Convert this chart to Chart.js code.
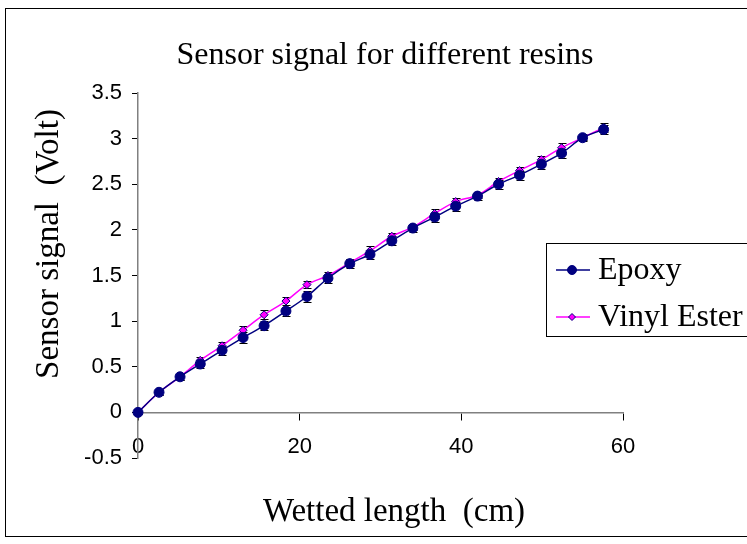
<!DOCTYPE html>
<html>
<head>
<meta charset="utf-8">
<title>Sensor signal for different resins</title>
<script src="https://cdn.jsdelivr.net/npm/chart.js@4.4.1/dist/chart.umd.min.js"></script>
<style>
  html, body { margin: 0; padding: 0; background: #fff; }
  canvas { display: block; }
</style>
</head>
<body>
<canvas id="sensorChart" width="747" height="544"></canvas>
<script>
// values
var wettedLength = [0, 2.6, 5.2, 7.7, 10.4, 13.0, 15.6, 18.3, 20.9, 23.5, 26.2, 28.7,
                    31.4, 34.0, 36.7, 39.3, 42.0, 44.6, 47.2, 49.9, 52.4, 55.0, 57.6];
var epoxySignal = [0, 0.22, 0.39, 0.53, 0.68, 0.82, 0.95, 1.11, 1.27, 1.47, 1.63, 1.73,
                   1.88, 2.02, 2.14, 2.26, 2.37, 2.50, 2.60, 2.72, 2.84, 3.01, 3.10];
var vinylSignal = [0, 0.22, 0.39, 0.57, 0.73, 0.90, 1.07, 1.22, 1.40, 1.50, 1.64, 1.77,
                   1.93, 2.03, 2.18, 2.31, 2.38, 2.53, 2.65, 2.77, 2.90, 3.01, 3.12];
var epoxyError = [0.02, 0.03, 0.03, 0.04, 0.05, 0.06, 0.05, 0.05, 0.06, 0.05, 0.05, 0.05,
                  0.05, 0.04, 0.05, 0.05, 0.04, 0.05, 0.05, 0.05, 0.05, 0.04, 0.05];
var vinylError = [0.02, 0.03, 0.03, 0.04, 0.04, 0.05, 0.05, 0.04, 0.04, 0.04, 0.04, 0.05,
                  0.04, 0.03, 0.05, 0.04, 0.03, 0.04, 0.04, 0.04, 0.05, 0.03, 0.05];
var xTickValues = [0, 20, 40, 60];
var yTickValues = [-0.5, 0, 0.5, 1, 1.5, 2, 2.5, 3, 3.5];
var seriesNames = ['Epoxy', 'Vinyl Ester'];

var serif = "'Liberation Serif', 'Times New Roman', serif";
var sans = "'Liberation Sans', Arial, sans-serif";

function toPoints(ys) {
    return wettedLength.map(function (x, i) { return { x: x, y: ys[i] }; });
}

// error bars, drawn under the markers
var errorBars = {
    id: 'errorBars',
    beforeDatasetsDraw: function (chart) {
        var ctx = chart.ctx;
        var xs = chart.scales.x, ys = chart.scales.y;
        ctx.save();
        ctx.strokeStyle = '#000';
        ctx.lineWidth = 1;
        chart.data.datasets.forEach(function (ds) {
            ds.data.forEach(function (p, i) {
                var px = Math.round(xs.getPixelForValue(p.x)) + 0.5;
                var top = Math.round(ys.getPixelForValue(p.y + ds.errors[i])) + 0.5;
                var bot = Math.round(ys.getPixelForValue(p.y - ds.errors[i])) + 0.5;
                ctx.beginPath();
                ctx.moveTo(px, top); ctx.lineTo(px, bot);
                ctx.moveTo(px - 4, top); ctx.lineTo(px + 4, top);
                ctx.moveTo(px - 4, bot); ctx.lineTo(px + 4, bot);
                ctx.stroke();
            });
        });
        ctx.restore();
    }
};

// frame, titles and the boxed legend like the excel original
var decorations = {
    id: 'decorations',
    beforeDraw: function (chart) {
        var ctx = chart.ctx;
        ctx.save();
        ctx.fillStyle = '#fff';
        ctx.fillRect(0, 0, chart.width, chart.height);
        ctx.strokeStyle = '#000';
        ctx.lineWidth = 1;
        ctx.strokeRect(5.5, 8.5, 800, 528);
        ctx.restore();
    },
    afterDraw: function (chart) {
        var ctx = chart.ctx;
        ctx.save();
        ctx.fillStyle = '#000';
        ctx.textAlign = 'center';
        ctx.textBaseline = 'alphabetic';

        ctx.font = '32px ' + serif;
        ctx.fillText('Sensor signal for different resins', 385, 64);

        ctx.font = '33px ' + serif;
        ctx.fillText('Wetted length  (cm)', 394, 521);

        ctx.save();
        ctx.translate(58, 244);
        ctx.rotate(-Math.PI / 2);
        ctx.fillText('Sensor signal  (Volt)', 0, 0);
        ctx.restore();

        // legend
        ctx.strokeStyle = '#000';
        ctx.lineWidth = 1;
        ctx.strokeRect(546.5, 243.5, 260, 93);
        var rows = [270, 317];
        ctx.textAlign = 'left';
        ctx.textBaseline = 'middle';
        chart.data.datasets.forEach(function (ds, i) {
            var y = rows[i];
            ctx.strokeStyle = ds.borderColor;
            ctx.lineWidth = ds.borderWidth;
            ctx.beginPath();
            ctx.moveTo(556, y); ctx.lineTo(590, y);
            ctx.stroke();
            ctx.fillStyle = ds.pointBackgroundColor;
            ctx.strokeStyle = ds.pointBorderColor;
            ctx.lineWidth = 1;
            Chart.helpers.drawPoint(ctx, {
                pointStyle: ds.pointStyle, radius: ds.pointRadius - 0.5,
                borderWidth: 1, rotation: 0
            }, 572, y);
            ctx.fillStyle = '#000';
            ctx.font = '32px ' + serif;
            ctx.fillText(ds.label, 598, y + 1);
        });
        ctx.restore();
    }
};

var ctx = document.getElementById('sensorChart').getContext('2d');

var sensorChart = new Chart(ctx, {
    type: 'line',
    data: {
        datasets: [{
            label: seriesNames[0],
            data: toPoints(epoxySignal),
            errors: epoxyError,
            borderColor: '#000080',
            borderWidth: 1.5,
            pointStyle: 'circle',
            pointRadius: 5,
            pointBackgroundColor: '#000080',
            pointBorderColor: '#000080',
            pointBorderWidth: 1,
            tension: 0.3,
            clip: false
        }, {
            label: seriesNames[1],
            data: toPoints(vinylSignal),
            errors: vinylError,
            borderColor: '#ff00ff',
            borderWidth: 1.5,
            pointStyle: 'rectRot',
            pointRadius: 4,
            pointBackgroundColor: '#ff00ff',
            pointBorderColor: '#000080',
            pointBorderWidth: 1,
            tension: 0.3,
            clip: false
        }]
    },
    options: {
        responsive: false,
        animation: false,
        layout: { padding: { left: 78, right: 124, top: 93, bottom: 86 } },
        plugins: {
            legend: { display: false },
            title: { display: false },
            tooltip: { enabled: false }
        },
        scales: {
            x: {
                type: 'linear',
                position: { y: 0 },
                min: 0,
                max: 60,
                afterBuildTicks: function (axis) {
                    axis.ticks = xTickValues.map(function (v) { return { value: v }; });
                },
                grid: { drawOnChartArea: false, drawTicks: true, tickLength: 7, color: '#000' },
                border: { color: '#808080', width: 1.5 },
                ticks: {
                    color: '#000',
                    padding: 14,
                    maxRotation: 0,
                    font: { family: sans, size: 22 },
                    callback: function (v) { return String(v); }
                }
            },
            y: {
                type: 'linear',
                position: 'left',
                min: -0.5,
                max: 3.5,
                afterBuildTicks: function (axis) {
                    axis.ticks = yTickValues.map(function (v) { return { value: v }; });
                },
                afterFit: function (scale) { scale.width = 60; },
                grid: { drawOnChartArea: false, drawTicks: true, tickLength: 6, color: '#000' },
                border: { color: '#808080', width: 1.5 },
                ticks: {
                    color: '#000',
                    padding: 10,
                    font: { family: sans, size: 22 },
                    callback: function (v) { return String(v); }
                }
            }
        }
    },
    plugins: [errorBars, decorations]
});
</script>
</body>
</html>
